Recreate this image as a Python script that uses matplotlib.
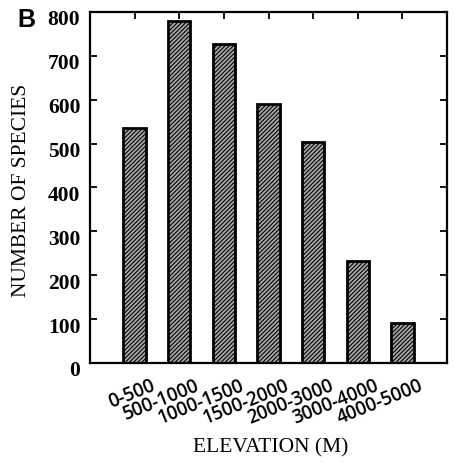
import matplotlib
matplotlib.use("Agg")
import matplotlib.pyplot as plt
import matplotlib.transforms as mtransforms

# species counts per elevation band
elevation_bands = ["0-500", "500-1000", "1000-1500", "1500-2000",
                   "2000-3000", "3000-4000", "4000-5000"]
species_counts = [535, 780, 728, 590, 503, 233, 92]
y_ticks = [0, 100, 200, 300, 400, 500, 600, 700, 800]

plt.rcParams['hatch.linewidth'] = 0.8
plt.rcParams['hatch.color'] = '#222222'

fig = plt.figure(figsize=(4.55, 4.63), dpi=100)
ax = fig.add_axes([90 / 455, 100 / 463, 357 / 455, 351 / 463])

positions = list(range(1, len(elevation_bands) + 1))
ax.bar(positions, species_counts, width=0.5, color='#a8a8a8',
       edgecolor='black', linewidth=2.0, hatch='////////')

ax.set_xlim(0, 8)
ax.set_ylim(0, 800)
for s in ax.spines.values():
    s.set_linewidth(1.6)

ax.set_yticks(y_ticks)
ax.set_yticklabels([str(v) for v in y_ticks], fontfamily='Liberation Serif',
                   fontweight='bold', fontsize=15.5)
ax.set_xticks(positions)
ax.set_xticklabels(elevation_bands, rotation=22, ha='right', va='top',
                   rotation_mode='anchor', fontfamily='Open Sans',
                   fontweight='semibold', fontsize=13.5)
ax.tick_params(axis='x', direction='in', top=True, bottom=False, length=5,
               width=1.3, pad=9)
ax.tick_params(axis='y', direction='in', right=True, length=5, width=1.3, pad=7)

# shift tick labels the way they sit in the scan
dx = mtransforms.ScaledTranslation(16 / 100, 0, fig.dpi_scale_trans)
for lab in ax.get_xticklabels():
    lab.set_transform(lab.get_transform() + dx)
dy = mtransforms.ScaledTranslation(0, -6 / 100, fig.dpi_scale_trans)
for lab in ax.get_yticklabels():
    lab.set_transform(lab.get_transform() + dy)

fig.text(22 / 455, 1 - 190 / 463, "NUMBER OF SPECIES", rotation=90,
         ha='center', va='center', fontfamily='Liberation Serif', fontsize=15.5)
fig.text(271 / 455, 1 - 448 / 463, "ELEVATION (M)", ha='center', va='center',
         fontfamily='Liberation Serif', fontsize=15.5)
fig.text(26 / 455, 1 - 20 / 463, "B", ha='center', va='center',
         fontfamily='Liberation Sans', fontweight='bold', fontsize=18)

fig.savefig("out.png", dpi=100)
